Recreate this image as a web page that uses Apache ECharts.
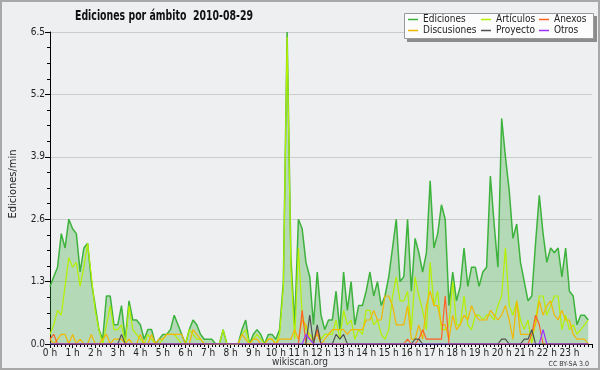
<!DOCTYPE html>
<html><head><meta charset="utf-8">
<script src="https://cdn.jsdelivr.net/npm/echarts@6/dist/echarts.min.js"></script>
<style>html,body{margin:0;padding:0;background:#eeeff0}#c{width:600px;height:370px}</style>
</head><body><div id="c"></div>
<script>
// 10-minute buckets, edits per minute, 2010-08-29
const hourLabels = ['0 h','1 h','2 h','3 h','4 h','5 h','6 h','7 h','8 h','9 h','10 h','11 h','12 h','13 h','14 h','15 h','16 h','17 h','18 h','19 h','20 h','21 h','22 h','23 h'];
const yTicks = [0, 1.3, 2.6, 3.9, 5.2, 6.5];
const stepsPerHour = 6;

const ediciones = [
1.2,1.4,1.6,2.3,2.0,2.6,2.4,2.3,1.5,2.0,
2.1,1.3,0.8,0.3,0.1,1.0,1.0,0.4,0.4,0.8,
0.1,0.9,0.5,0.5,0.4,0.1,0.3,0.3,0.0,0.1,
0.2,0.2,0.3,0.6,0.4,0.2,0.0,0.3,0.5,0.4,
0.2,0.1,0.1,0.1,0.0,0.0,0.3,0.0,0.0,0.0,
0.0,0.3,0.5,0.0,0.2,0.3,0.2,0.0,0.2,0.2,
0.1,0.3,1.3,6.5,1.8,0.4,2.6,2.4,1.7,1.4,
0.4,1.5,0.6,0.3,0.5,0.5,1.1,0.3,1.5,0.7,
1.3,0.4,0.8,0.8,1.1,1.5,1.0,1.3,0.8,1.0,
1.4,2.0,2.6,1.3,1.4,2.6,1.1,2.2,1.9,1.5,
1.9,3.4,2.0,2.3,2.9,2.6,0.8,1.5,0.9,1.2,
2.0,1.2,1.6,1.6,1.2,1.5,1.6,3.5,2.5,1.6,
4.7,3.9,3.2,2.2,2.5,1.7,1.3,0.9,1.0,2.1,
3.1,2.3,1.7,2.0,1.9,2.0,1.4,2.0,1.1,1.0,
0.4,0.6,0.6,0.5];

const articulos = [
0.2,0.4,0.7,0.6,1.2,1.8,1.6,1.7,1.2,1.6,
2.1,1.4,0.7,0.3,0.0,0.4,0.8,0.3,0.3,0.4,
0.0,0.8,0.3,0.2,0.1,0.0,0.2,0.1,0.0,0.0,
0.1,0.2,0.2,0.2,0.1,0.0,0.0,0.3,0.2,0.1,
0.1,0.0,0.0,0.0,0.0,0.0,0.3,0.0,0.0,0.0,
0.0,0.2,0.3,0.0,0.1,0.2,0.1,0.0,0.1,0.1,
0.0,0.2,1.2,6.4,1.6,0.1,2.0,0.6,0.3,0.2,
0.1,0.3,0.1,0.2,0.2,0.2,0.5,0.1,0.7,0.4,
0.5,0.1,0.3,0.2,0.7,0.7,0.4,0.5,0.2,0.1,
0.3,1.0,1.4,0.9,0.9,1.1,0.3,1.4,1.0,0.7,
0.3,1.7,0.8,1.1,0.3,0.3,0.4,1.3,0.4,0.4,
1.0,0.4,0.3,0.6,0.6,0.5,0.6,0.6,0.5,0.8,
1.0,2.0,0.8,0.6,0.9,0.5,0.3,0.5,0.0,0.5,
1.0,1.0,0.6,0.8,1.0,1.0,0.3,0.6,0.3,0.4,
0.2,0.3,0.4,0.5];

const discusiones = [
0.1,0.0,0.1,0.2,0.2,0.0,0.2,0.0,0.1,0.0,
0.0,0.2,0.0,0.0,0.1,0.2,0.0,0.1,0.1,0.1,
0.0,0.1,0.0,0.0,0.2,0.0,0.0,0.2,0.0,0.1,
0.1,0.2,0.2,0.2,0.2,0.2,0.0,0.0,0.3,0.2,
0.1,0.0,0.0,0.0,0.0,0.0,0.0,0.0,0.0,0.0,
0.0,0.2,0.1,0.0,0.1,0.1,0.0,0.0,0.1,0.1,
0.0,0.1,0.1,0.1,0.1,0.3,0.1,0.5,0.4,0.1,
0.1,0.2,0.0,0.1,0.2,0.3,0.3,0.3,0.3,0.2,
0.3,0.3,0.3,0.3,0.5,0.5,0.7,0.5,0.5,1.0,
1.0,0.8,0.4,0.4,0.4,0.8,0.1,0.1,0.4,0.1,
0.8,1.1,0.8,0.8,0.4,0.4,0.1,0.6,0.3,0.4,
0.6,0.5,0.8,0.6,0.5,0.5,0.5,0.7,0.6,0.5,
0.6,0.8,0.5,0.1,0.9,0.2,0.2,0.2,0.2,0.4,
0.9,0.6,0.8,0.9,0.6,0.5,0.7,0.5,0.5,0.2,
0.1,0.1,0.1,0.0];

const anexos = [
0.1,0.2,0,0,0,0,0,0,0,0,
0,0,0,0,0,0,0,0,0,0,
0,0,0,0,0,0,0,0,0,0,
0,0,0,0,0,0,0,0,0,0,
0,0,0,0,0,0,0,0,0,0,
0,0,0,0,0,0,0,0,0,0,
0,0,0,0,0,0,0,0.7,0,0,
0,0.3,0,0,0,0,0,0,0,0,
0,0,0,0,0,0,0,0,0,0,
0,0,0,0,0,0.1,0,0,0.1,0.3,
0.1,0.1,0.1,0.1,0.1,1.0,0,0,0,0,
0,0,0,0,0,0,0,0,0,0,
0,0,0,0,0,0,0,0,0.2,0.6,
0.4,0,0,0,0,0,0,0,0,0,
0,0,0,0];

const proyecto = [
0,0,0,0,0,0,0,0,0,0,
0,0,0,0,0,0,0,0,0,0.2,
0,0,0,0,0,0,0,0,0,0,
0,0,0,0,0,0,0,0,0,0,
0,0,0,0,0,0,0,0,0,0,
0,0,0,0,0,0,0,0,0,0,
0,0,0,0,0,0,0,0,0,0.6,
0,0.4,0,0,0,0,0.2,0.1,0.2,0,
0,0,0,0,0,0,0,0,0,0,
0,0,0,0,0,0,0,0.1,0.1,0,
0,0,0,0,0,0,0,0,0,0,
0,0,0,0,0,0,0,0,0,0,
0.1,0.1,0,0,0,0,0.1,0.1,0.3,0,
0,0,0,0,0,0,0,0,0,0,
0,0,0,0];

const otros = [
0,0,0,0,0,0,0,0,0,0,
0,0,0,0,0,0,0,0,0,0,
0,0,0,0,0,0,0,0,0,0,
0,0,0,0,0,0,0,0,0,0,
0,0,0,0,0,0,0,0,0,0,
0,0,0,0,0,0,0,0,0,0,
0,0,0,0,0,0,0,0,0.2,0.1,
0,0,0,0,0,0,0,0,0,0,
0,0,0,0,0,0,0,0,0,0,
0,0,0,0,0,0,0,0,0,0,
0,0,0,0,0,0,0,0,0,0,
0,0,0,0,0,0,0,0,0,0,
0,0,0,0,0,0,0,0,0,0,
0,0.3,0,0,0,0,0,0,0,0,
0,0,0,0];

const FONT = "'DejaVu Sans Condensed','DejaVu Sans',sans-serif";
const pts = arr => arr.map((v, i) => [i / stepsPerHour, v]);
const mk = (name, arr, color, extra) => Object.assign({
  name, type: 'line', data: pts(arr), showSymbol: false, symbol: 'none',
  lineStyle: { color, width: 1.2 }, itemStyle: { color }, z: 3, silent: true
}, extra || {});

const chart = echarts.init(document.getElementById('c'));
const legendCommon = {
  orient: 'vertical', top: 14, itemGap: 0, padding: 0, icon: 'rect',
  itemWidth: 10, itemHeight: 1.5, selectedMode: false, z: 6,
  textStyle: { fontFamily: FONT, fontSize: 10, lineHeight: 11, color: '#222' }
};
chart.setOption({
  animation: false,
  backgroundColor: '#eeeff0',
  legend: [
    Object.assign({ data: ['Ediciones', 'Discusiones'], left: 408 }, legendCommon),
    Object.assign({ data: ['Artículos', 'Proyecto'], left: 481 }, legendCommon),
    Object.assign({ data: ['Anexos', 'Otros'], left: 539 }, legendCommon)
  ],
  grid: { left: 46, right: 8, top: 32, bottom: 26 },
  xAxis: {
    type: 'value', min: 0, max: 24, interval: 1,
    axisLine: { show: true, onZero: false, lineStyle: { color: '#000', width: 1 } },
    axisTick: { show: true, length: 4, lineStyle: { color: '#000' } },
    minorTick: { show: true, splitNumber: 6, length: 3, lineStyle: { color: '#000' } },
    splitLine: { show: false },
    axisLabel: {
      fontFamily: FONT, fontSize: 10, color: '#222', margin: 4, showMaxLabel: false,
      formatter: v => hourLabels[v] !== undefined ? hourLabels[v] : ''
    }
  },
  yAxis: {
    type: 'value', min: yTicks[0], max: yTicks[yTicks.length - 1], interval: yTicks[1],
    name: 'Ediciones/min', nameLocation: 'middle', nameGap: 31, nameRotate: 90,
    nameTextStyle: { fontFamily: FONT, fontSize: 11, color: '#222', padding: [0, 0, 0, 8] },
    axisLine: { show: true, lineStyle: { color: '#000', width: 1 } },
    axisTick: { show: true, length: 5, lineStyle: { color: '#000' } },
    minorTick: { show: true, splitNumber: 4, length: 3, lineStyle: { color: '#000' } },
    splitLine: { show: true, lineStyle: { color: '#cccccc', width: 1 } },
    axisLabel: { fontFamily: FONT, fontSize: 10, color: '#222', margin: 5, formatter: v => v.toFixed(1) }
  },
  series: [
    mk('Ediciones', ediciones, '#3db23d', {
      lineStyle: { color: '#3db23d', width: 1.5 },
      areaStyle: { color: 'rgba(60,170,60,0.46)' }, z: 2
    }),
    mk('Artículos', articulos, '#b4f000'),
    mk('Discusiones', discusiones, '#f2b700'),
    mk('Anexos', anexos, '#ff6026'),
    mk('Proyecto', proyecto, '#505050'),
    mk('Otros', otros, '#9b30ff')
  ],
  graphic: [
    { type: 'text', z: 5, x: 75, y: 16, scaleX: 0.67, style: { x: 0, y: 0, text: 'Ediciones por ámbito  2010-08-29', textAlign: 'left', textVerticalAlign: 'middle', fontFamily: "'DejaVu Sans',sans-serif", fontSize: 14, fontWeight: 'bold', fill: '#111' } },
    { type: 'rect', z: 5, shape: { x: 407, y: 16, width: 190, height: 26 }, style: { fill: '#8c8c8c' } },
    { type: 'rect', z: 5, shape: { x: 404.5, y: 13.5, width: 189, height: 25 }, style: { fill: '#fcfcfc', stroke: '#9a9a9a', lineWidth: 1 } },
    { type: 'text', z: 5, style: { x: 300, y: 362, text: 'wikiscan.org', textAlign: 'center', textVerticalAlign: 'middle', fontFamily: FONT, fontSize: 10, fill: '#333' } },
    { type: 'text', z: 5, style: { x: 589, y: 364, text: 'CC BY-SA 3.0', textAlign: 'right', textVerticalAlign: 'middle', fontFamily: FONT, fontSize: 7, fill: '#333' } },
    { type: 'rect', z: 10, shape: { x: 1, y: 1, width: 598, height: 368 }, style: { fill: 'none', stroke: '#a8a8a8', lineWidth: 2 } }
  ]
});
</script></body></html>
